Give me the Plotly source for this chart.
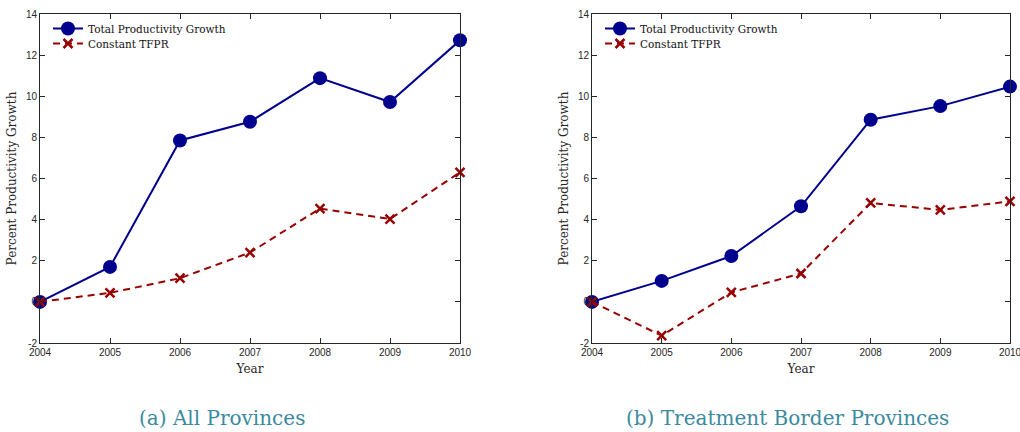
import plotly.graph_objects as go

years = [2004, 2005, 2006, 2007, 2008, 2009, 2010]

# Panel (a): all provinces
all_total = [0.0, 1.7, 7.85, 8.76, 10.88, 9.72, 12.72]
all_tfpr = [0.0, 0.44, 1.15, 2.40, 4.54, 4.03, 6.30]

# Panel (b): treatment border provinces
border_total = [0.0, 1.02, 2.23, 4.65, 8.86, 9.52, 10.47]
border_tfpr = [0.0, -1.64, 0.46, 1.38, 4.81, 4.47, 4.89]

y_ticks = [-2, 0, 2, 4, 6, 8, 10, 12, 14]
captions = ["(a) All Provinces", "(b) Treatment Border Provinces"]

W, H = 1020, 432
BLUE = "#00008f"
RED = "#990000"
AX = "#262626"
SERIF = "DejaVu Serif"
SANS = "Liberation Sans"

fig = go.Figure()

# each legend entry gets its own legend box so rows can sit close together
panels = [(all_total, all_tfpr, "x", "y", "legend", "legend3"),
          (border_total, border_tfpr, "x2", "y2", "legend2", "legend4")]

for total, tfpr, xa, ya, leg_a, leg_b in panels:
    fig.add_trace(go.Scatter(
        x=years, y=total, xaxis=xa, yaxis=ya, legend=leg_a,
        name="Total Productivity Growth", mode="lines+markers",
        line=dict(color=BLUE, width=2),
        marker=dict(symbol="circle", size=14, color=BLUE),
        cliponaxis=False,
    ))
    fig.add_trace(go.Scatter(
        x=years, y=tfpr, xaxis=xa, yaxis=ya, legend=leg_b,
        name="Constant TFPR", mode="lines+markers",
        line=dict(color=RED, width=2, dash="7px,5px"),
        marker=dict(symbol="x-thin", size=9, color=RED,
                    line=dict(color=RED, width=2.5)),
        cliponaxis=False,
    ))

def px_x(a, b):
    return [a / W, b / W]

def px_y(top, bottom):
    return [1 - bottom / H, 1 - top / H]

axis_common = dict(
    showline=True, linecolor=AX, linewidth=1, mirror="ticks",
    ticks="inside", ticklen=5, tickcolor=AX, tickwidth=1,
    showgrid=False, zeroline=False, automargin=False,
    ticklabeloverflow="allow",
    tickfont=dict(family=SANS, size=10, color=AX),
)

xdoms = [px_x(40, 460), px_x(592, 1010)]
ydom = px_y(14, 343)

for i, xd in enumerate(xdoms):
    sfx = "" if i == 0 else "2"
    fig.update_layout(**{
        "xaxis" + sfx: dict(
            axis_common, domain=xd, range=[2004, 2010],
            tickmode="array", tickvals=years, ticktext=[str(y) for y in years],
            anchor="y" + sfx,
            title=dict(text="Year", font=dict(family=SERIF, size=12, color=AX),
                       standoff=7),
        ),
        "yaxis" + sfx: dict(
            axis_common, domain=ydom, range=[-2, 14],
            tickmode="array", tickvals=y_ticks,
            ticktext=[str(v) for v in y_ticks],
            anchor="x" + sfx,
            title=dict(text="Percent Productivity Growth",
                       font=dict(family=SERIF, size=12, color=AX),
                       standoff=6),
        ),
    })

legend_style = dict(
    bgcolor="rgba(0,0,0,0)", borderwidth=0,
    font=dict(family=SERIF, size=10.5, color="#111111"),
    xanchor="left", yanchor="top", tracegroupgap=0, itemwidth=30,
)
fig.update_layout(
    legend=dict(legend_style, x=48 / W, y=1 - 14 / H),
    legend3=dict(legend_style, x=48 / W, y=1 - 29 / H),
    legend2=dict(legend_style, x=600 / W, y=1 - 14 / H),
    legend4=dict(legend_style, x=600 / W, y=1 - 29 / H),
)

caption_x = [222, 787]
for cx, txt in zip(caption_x, captions):
    fig.add_annotation(
        x=cx / W, y=1 - 418 / H, xref="paper", yref="paper",
        text=txt, showarrow=False, xanchor="center", yanchor="middle",
        font=dict(family=SERIF, size=20, color="#3a8aa0"),
    )

fig.update_layout(
    width=W, height=H, autosize=False,
    margin=dict(l=0, r=0, t=0, b=0),
    paper_bgcolor="white", plot_bgcolor="white",
    showlegend=True,
)

fig.write_html("out.html")
